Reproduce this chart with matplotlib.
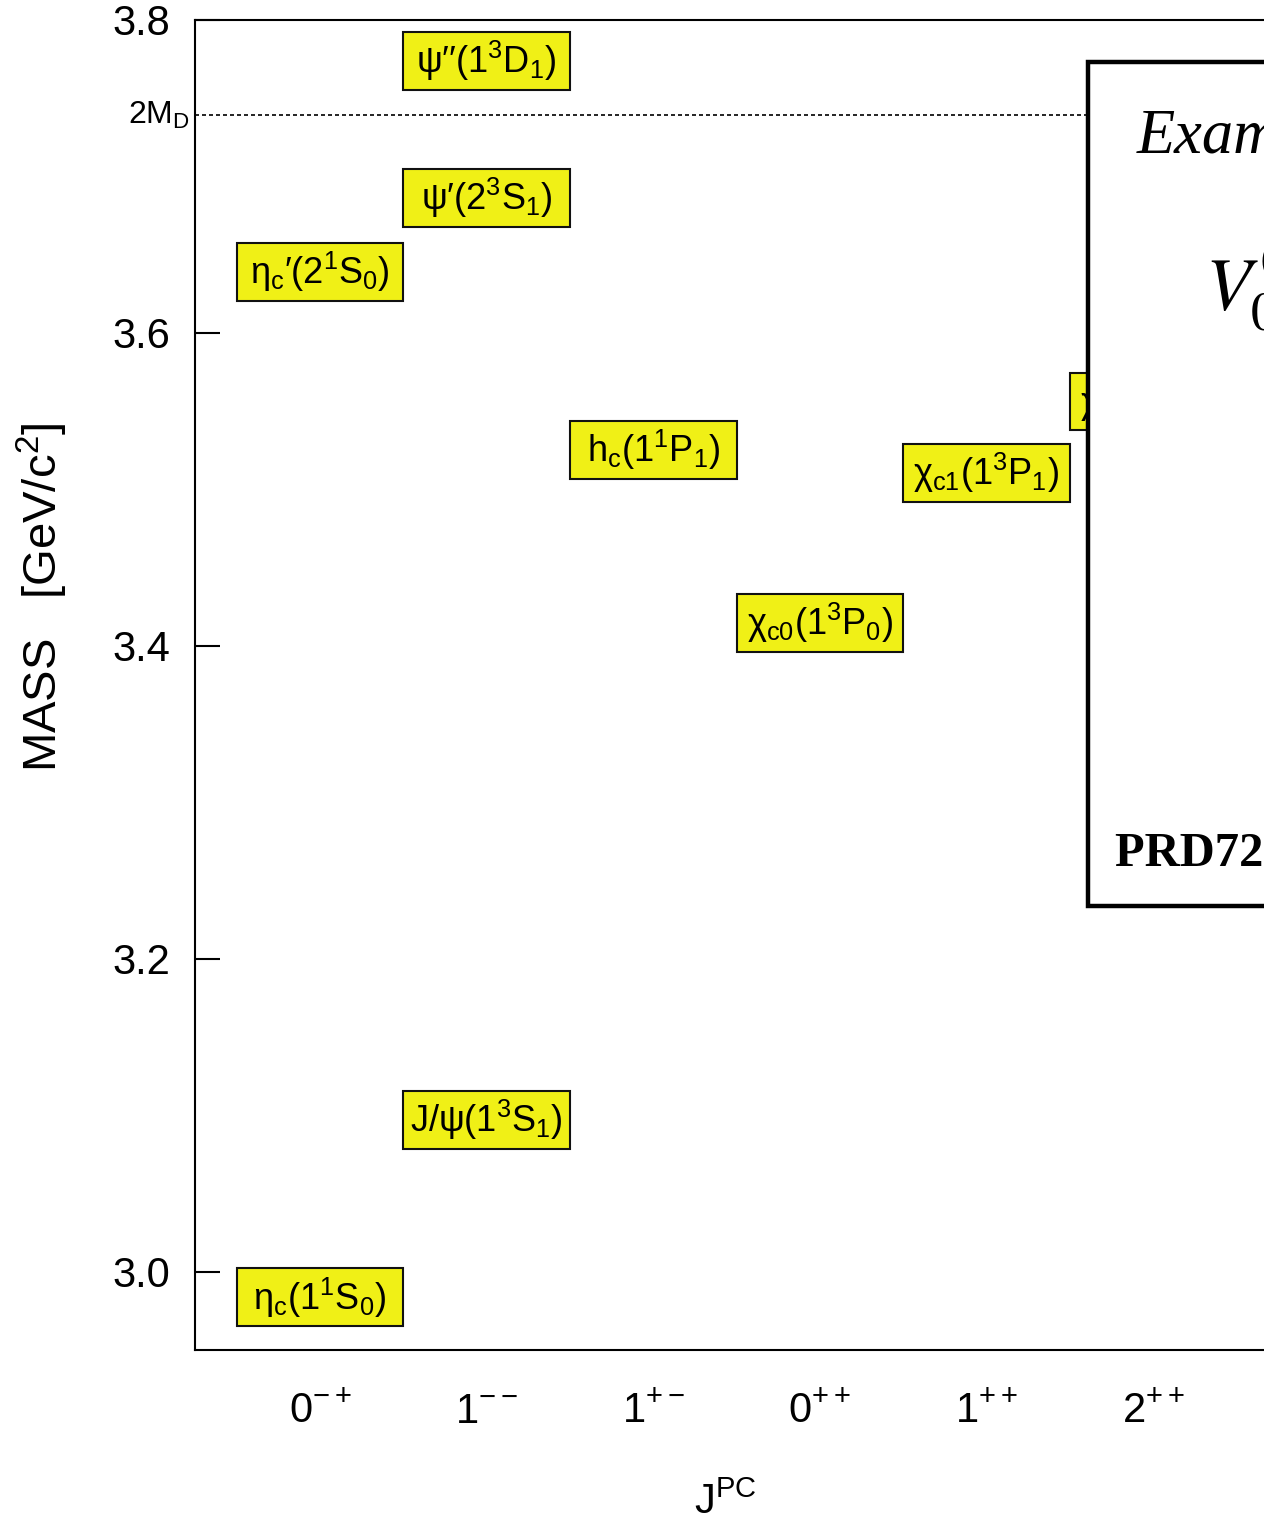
import matplotlib
matplotlib.use("Agg")
import matplotlib.pyplot as plt
from matplotlib.patches import Rectangle
import matplotlib.transforms as mtransforms

plt.rcParams['font.family'] = ['Liberation Sans', 'DejaVu Sans']
plt.rcParams['mathtext.fontset'] = 'custom'
plt.rcParams['mathtext.rm'] = 'Liberation Sans'
plt.rcParams['mathtext.it'] = 'Liberation Sans:italic'
plt.rcParams['mathtext.bf'] = 'Liberation Sans:bold'

# ---- data ----
jpc_labels = ["0$^{-+}$", "1$^{--}$", "1$^{+-}$", "0$^{++}$", "1$^{++}$", "2$^{++}$"]
state_names = [
    "η$_\\mathrm{c}$(1$^1$S$_0$)",
    "η$_\\mathrm{c}$′(2$^1$S$_0$)",
    "J/ψ(1$^3$S$_1$)",
    "ψ′(2$^3$S$_1$)",
    "ψ′′(1$^3$D$_1$)",
    "h$_\\mathrm{c}$(1$^1$P$_1$)",
    "χ$_\\mathrm{c0}$(1$^3$P$_0$)",
    "χ$_\\mathrm{c1}$(1$^3$P$_1$)",
    "χ$_\\mathrm{c2}$(1$^3$P$_2$)",
]
state_jpc = [0, 0, 1, 1, 1, 2, 3, 4, 5]
state_mass = [2.9836, 3.639, 3.0969, 3.6861, 3.7737, 3.5254, 3.4147, 3.5107, 3.5562]
two_MD = 3.739
ytick_vals = [3.0, 3.2, 3.4, 3.6, 3.8]

# ---- figure ----
W, H = 1264, 1524
fig = plt.figure(figsize=(W / 100, H / 100), dpi=100)
ax_left, ax_top, ax_bottom, ax_right = 195, 20, 1350, 1278
ax = fig.add_axes([ax_left / W, (H - ax_bottom) / H,
                   (ax_right - ax_left) / W, (ax_bottom - ax_top) / H])
ax.set_xlim(-0.75, 5.75)
ax.set_ylim(2.95, 3.8)

for s in ax.spines.values():
    s.set_linewidth(1.5)

box_h = 0.037
yellow = '#f0f016'
ax.bar(state_jpc, [box_h] * len(state_mass), width=1.0,
       bottom=[m - box_h / 2 for m in state_mass],
       color=yellow, edgecolor='#111111', linewidth=1.5, zorder=3)
for x, m, lab in zip(state_jpc, state_mass, state_names):
    ax.text(x, m, lab, ha='center', va='center', fontsize=26, zorder=4)

# 2M_D threshold
ax.axhline(two_MD, color='black', lw=1.2, ls=(0, (2.4, 1.8)), zorder=2)
trans = mtransforms.blended_transform_factory(ax.transAxes, ax.transData)
ax.text(-0.005, two_MD, "2M$_\\mathrm{D}$", transform=trans, ha='right',
        va='center', fontsize=23)

# y axis
ax.set_yticks(ytick_vals)
ax.set_yticklabels([f"{v:.1f}" for v in ytick_vals], fontsize=30)
ax.tick_params(axis='y', direction='in', length=18, width=1.5, pad=18)

# x axis
ax.set_xticks(range(len(jpc_labels)))
ax.set_xticklabels(jpc_labels, fontsize=30)
ax.tick_params(axis='x', length=0, pad=30)
ax.set_xlabel("J$^\\mathrm{PC}$", fontsize=30)
ax.xaxis.set_label_coords((725 - ax_left) / (ax_right - ax_left), -0.100)

fig.text(42 / W, 1 - 597 / H, "MASS   [GeV/c$^2$]", rotation=90,
         ha='center', va='center', fontsize=34)

# inset box (covers part of the plot)
box = Rectangle((1088 / W, (H - 906) / H), 0.4, (906 - 62) / H,
                transform=fig.transFigure, facecolor='white',
                edgecolor='black', linewidth=3.2, zorder=10, clip_on=False)
ax.add_patch(box)
fig.text(1137 / W, 1 - 153 / H, "Example", fontsize=45, style='italic',
         family='Liberation Serif', ha='left', va='baseline', zorder=11)
fig.text(1205 / W, 1 - 285 / H, "$V_0^{(0)}$", fontsize=54,
         math_fontfamily='stix', ha='left', va='center', zorder=11)
fig.text(1115 / W, 1 - 865 / H, "PRD72, 054026", fontsize=35, weight='bold',
         family='Liberation Serif', ha='left', va='baseline', zorder=11)

fig.savefig("out.png", dpi=100)
